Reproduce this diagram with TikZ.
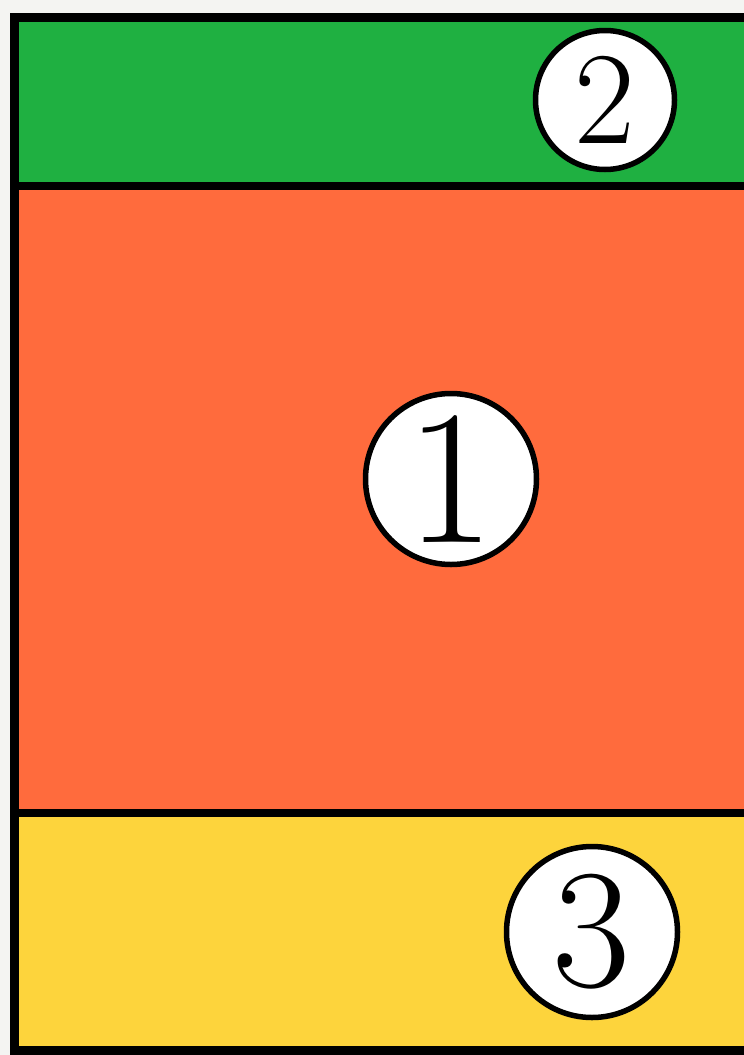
\documentclass[tikz,border=0pt]{standalone}
\usepackage{fontspec}
\definecolor{bandgreen}{HTML}{1FB041}
\definecolor{bandorange}{HTML}{FF6B3D}
\definecolor{bandyellow}{HTML}{FDD43C}
\definecolor{paper}{HTML}{F4F4F2}
\begin{document}
\begin{tikzpicture}[x=1pt, y=-1pt,
  frame/.style={line width=9pt, draw=black},
  divider/.style={line width=8pt, draw=black},
  numcircle/.style={circle, draw=black, line width=5.5pt, fill=white, inner sep=0pt, minimum size=#1},
  numtext/.style={font=\fontsize{#1}{#1}\selectfont}
]
\fill[paper] (0,0) rectangle (744,1055);
\useasboundingbox (0,0) rectangle (744,1055);
% the three bands
\fill[bandgreen] (14,17) rectangle (744,186);
\fill[bandorange] (14,186) rectangle (744,813);
\fill[bandyellow] (14,813) rectangle (744,1050);
\draw[divider] (14,186) -- (744,186);
\draw[divider] (14,813) -- (744,813);
\draw[frame] (749,17) -- (14,17) -- (14,1050) -- (749,1050);
% numbered circles
\node[numcircle=139pt, numtext=132] (two) at (605,100) {2};
\node[numcircle=171pt, numtext=192] (one) at (451,479) {1};
\node[numcircle=171pt, numtext=170] (three) at (592,932) {3};
\end{tikzpicture}
\end{document}
